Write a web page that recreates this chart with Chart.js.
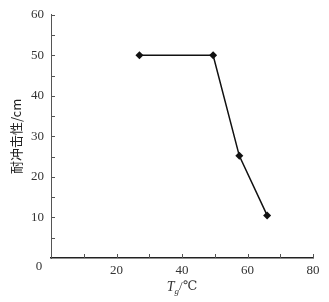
<!DOCTYPE html>
<html>
<head>
<meta charset="utf-8">
<script src="https://cdn.jsdelivr.net/npm/chart.js@4/dist/chart.umd.min.js"></script>
<style>
  html, body { margin: 0; padding: 0; background: #fff; }
  #wrap { width: 329px; height: 302px; }
</style>
</head>
<body>
<div id="wrap"><canvas id="c"></canvas></div>
<script>
'use strict';

// data
const TG_VALUES = [27, 49.5, 57.5, 66];
const IMPACT_VALUES = [50, 50, 25.2, 10.5];
const X_LABELS = [20, 40, 60, 80];
const Y_LABELS = [10, 20, 30, 40, 50, 60];

const SERIF = "'Liberation Serif', 'DejaVu Serif', serif";
const INK = '#333';

/* ── inside ticks, origin "0" and x title ───────────── */
const decor = {
    id: 'decor',
    afterDraw(chart) {
        const { ctx, chartArea: a, scales: { x, y } } = chart;
        ctx.save();
        ctx.strokeStyle = '#555';
        ctx.lineWidth = 1;
        ctx.beginPath();
        for (let v = 10; v <= 80; v += 10) {
            const px = Math.round(x.getPixelForValue(v)) + 0.5;
            ctx.moveTo(px, a.bottom); ctx.lineTo(px, a.bottom - 4);
        }
        for (let v = 5; v <= 60; v += 5) {
            const py = Math.round(y.getPixelForValue(v)) + 0.5;
            ctx.moveTo(a.left, py); ctx.lineTo(a.left + 4, py);
        }
        ctx.stroke();

        ctx.fillStyle = INK;
        ctx.font = '13px ' + SERIF;
        ctx.textAlign = 'center';
        ctx.textBaseline = 'middle';
        ctx.fillText('0', a.left - 12, a.bottom + 9);

        // x title: T_g/℃
        const cx = x.getPixelForValue(40), cy = 287;
        ctx.textAlign = 'left';
        ctx.font = 'italic 14px ' + SERIF;
        const wT = ctx.measureText('T').width;
        ctx.font = 'italic 9px ' + SERIF;
        const wg = ctx.measureText('g').width;
        ctx.font = '13px ' + SERIF;
        const wr = ctx.measureText('/℃').width;
        let sx = cx - (wT + wg + wr) / 2;
        ctx.font = 'italic 14px ' + SERIF;
        ctx.fillText('T', sx, cy);
        sx += wT;
        ctx.font = 'italic 9px ' + SERIF;
        ctx.fillText('g', sx, cy + 5);
        sx += wg;
        ctx.font = '13px ' + SERIF;
        ctx.fillText('/℃', sx, cy);
        ctx.restore();
    }
};

new Chart(document.getElementById('c'), {
    type: 'scatter',
    data: {
        datasets: [{
            data: TG_VALUES.map((t, i) => ({ x: t, y: IMPACT_VALUES[i] })),
            showLine: true,
            borderColor: '#111',
            borderWidth: 1.5,
            backgroundColor: '#111',
            pointStyle: 'rectRot',
            pointRadius: 4,
            pointBorderWidth: 0,
        }]
    },
    options: {
        responsive: true, maintainAspectRatio: false,
        animation: false,
        layout: { padding: { left: 0, top: 13, right: 16, bottom: 0 } },
        plugins: { legend: { display: false }, tooltip: { enabled: false } },
        scales: {
            x: {
                type: 'linear', min: 0, max: 80,
                afterFit: s => { s.height = 44; },
                border: { color: '#222', width: 1.5 },
                grid: { display: false, drawTicks: false, tickLength: 0 },
                ticks: {
                    stepSize: 10, padding: 5, color: INK, maxRotation: 0,
                    font: { family: SERIF, size: 13 },
                    callback: v => X_LABELS.includes(v) ? String(v) : ''
                }
            },
            y: {
                min: 0, max: 60,
                afterFit: s => { s.width = 51; },
                border: { color: '#555', width: 1 },
                grid: { display: false, drawTicks: false, tickLength: 0 },
                title: {
                    display: true, text: '耐冲击性/cm', color: '#222',
                    font: { family: "'Noto Sans CJK SC', sans-serif", size: 13 },
                    padding: { top: 8, bottom: 0 }
                },
                ticks: {
                    stepSize: 10, padding: 7, color: INK,
                    font: { family: SERIF, size: 13 },
                    callback: v => Y_LABELS.includes(v) ? String(v) : ''
                }
            }
        }
    },
    plugins: [decor]
});
</script>
</body>
</html>
